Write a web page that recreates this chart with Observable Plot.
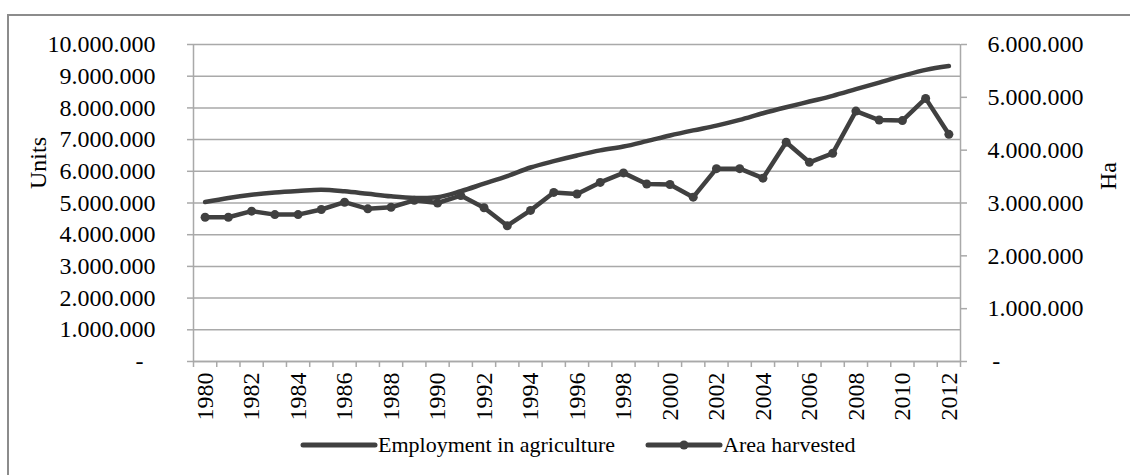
<!DOCTYPE html>
<html><head><meta charset="utf-8">
<script src="https://cdn.jsdelivr.net/npm/d3@7"></script>
<script src="https://cdn.jsdelivr.net/npm/@observablehq/plot@0.6"></script>
<style>
html,body{margin:0;padding:0;background:#fff;}
body{font-family:"Liberation Serif","Times New Roman",serif;}
svg text{font-family:"Liberation Serif","Times New Roman",serif !important;}
#wrap{position:relative;width:1130px;height:475px;overflow:hidden;}
#border{position:absolute;left:7px;top:14px;width:1140px;height:480px;border-top:2px solid #8c8c8c;border-left:2px solid #8c8c8c;box-sizing:border-box;}
#chart{position:absolute;left:0;top:0;}
#legend{position:absolute;left:300px;top:430px;height:30px;display:flex;align-items:center;font-size:22px;color:#000;white-space:nowrap;}
#legend .item{display:flex;align-items:center;}
#legend svg{display:block;}
</style>
</head><body>
<div id="wrap"><div id="border"></div><div id="chart"></div><div id="legend"></div></div>
<script>
const years = [1980,1981,1982,1983,1984,1985,1986,1987,1988,1989,1990,1991,1992,1993,1994,1995,1996,1997,1998,1999,2000,2001,2002,2003,2004,2005,2006,2007,2008,2009,2010,2011,2012];
const employment = [5030000,5160000,5260000,5330000,5380000,5420000,5370000,5290000,5210000,5160000,5180000,5370000,5610000,5850000,6120000,6320000,6500000,6660000,6780000,6950000,7130000,7290000,7440000,7620000,7830000,8020000,8200000,8380000,8590000,8800000,9010000,9200000,9320000];
const areaHarvested = [2730000,2730000,2845000,2780000,2780000,2877000,3015000,2890000,2920000,3050000,3000000,3140000,2910000,2570000,2860000,3200000,3170000,3390000,3570000,3360000,3350000,3110000,3650000,3650000,3470000,4150000,3770000,3940000,4740000,4570000,4560000,4980000,4300000];
const leftTicks = [0,1000000,2000000,3000000,4000000,5000000,6000000,7000000,8000000,9000000,10000000];
const rightTicks = [0,1000000,2000000,3000000,4000000,5000000,6000000];
const labelYears = [1980,1982,1984,1986,1988,1990,1992,1994,1996,1998,2000,2002,2004,2006,2008,2010,2012];
const seriesNames = ["Employment in agriculture","Area harvested"];
const axisTitles = ["Units","Ha"];

const ratio = 10000000 / 6000000;
const loc = d3.formatLocale({decimal: ",", thousands: ".", grouping: [3], currency: ["", ""]});
const f = loc.format(",.0f");
const fmtLeft = d => d === 0 ? "-\u2002" : f(d);
const fmtRight = d => { const v = Math.round(d / ratio); return v === 0 ? "\u2009-" : f(v); };

const empData = years.map((y, i) => ({year: y, value: employment[i]}));
const areaData = years.map((y, i) => ({year: y, value: areaHarvested[i] * ratio}));
const boundaries = [years[0] - 0.5, ...years.map(y => y + 0.5)];
const xDomain = [years[0] - 0.5, years[years.length - 1] + 0.5];

const ink = "#404040";
const gridC = "#a9a9a9";
const fs = 24;

const chart = Plot.plot({
  width: 1130,
  height: 425,
  marginLeft: 193,
  marginRight: 170,
  marginTop: 44,
  marginBottom: 64,
  style: {fontFamily: '"Liberation Serif","Times New Roman",serif', fontSize: fs + "px", color: "#000", background: "transparent", overflow: "visible"},
  x: {domain: xDomain, label: null},
  y: {domain: [0, 10000000], label: null},
  marks: [
    Plot.gridY(leftTicks, {stroke: gridC, strokeOpacity: 1, strokeWidth: 1.5}),
    Plot.ruleX([xDomain[0], xDomain[1]], {stroke: gridC, strokeWidth: 1.5}),
    Plot.ruleY([0], {stroke: gridC, strokeWidth: 1.5}),
    Plot.axisY({anchor: "left", ticks: leftTicks, tickFormat: fmtLeft, tickSize: 6, tickPadding: 32, stroke: gridC, strokeWidth: 1.5, fontSize: fs, label: null}),
    Plot.axisY({anchor: "right", ticks: rightTicks.map(v => v * ratio), tickFormat: fmtRight, tickSize: 6, tickPadding: 21, stroke: gridC, strokeWidth: 1.5, fontSize: fs, label: null}),
    Plot.axisX({ticks: boundaries, tickFormat: () => "", tickSize: 6, stroke: gridC, strokeWidth: 1.5, label: null}),
    Plot.axisX({ticks: labelYears, tickFormat: d => String(d), tickSize: 0, tickPadding: 11, tickRotate: -90, fontSize: fs, label: null}),
    Plot.text([axisTitles[0]], {frameAnchor: "left", textAnchor: "middle", dx: -155, dy: -40, rotate: -90, fontSize: fs, fill: "#000"}),
    Plot.text([axisTitles[1]], {frameAnchor: "right", textAnchor: "middle", dx: 148, dy: -27, rotate: -90, fontSize: fs, fill: "#000"}),
    Plot.line(empData, {x: "year", y: "value", stroke: ink, strokeWidth: 4.5, curve: "catmull-rom"}),
    Plot.line(areaData, {x: "year", y: "value", stroke: ink, strokeWidth: 4.5}),
    Plot.dot(areaData, {x: "year", y: "value", r: 4.5, fill: ink, stroke: "none"})
  ]
});
document.getElementById("chart").appendChild(chart);

const legend = document.getElementById("legend");
function swatch(withDot) {
  const ns = "http://www.w3.org/2000/svg";
  const s = document.createElementNS(ns, "svg");
  s.setAttribute("width", 78); s.setAttribute("height", 14);
  const l = document.createElementNS(ns, "line");
  l.setAttribute("x1", 3); l.setAttribute("x2", 75); l.setAttribute("y1", 7); l.setAttribute("y2", 7);
  l.setAttribute("stroke", ink); l.setAttribute("stroke-width", 5); l.setAttribute("stroke-linecap", "round");
  s.appendChild(l);
  if (withDot) {
    const c = document.createElementNS(ns, "circle");
    c.setAttribute("cx", 39); c.setAttribute("cy", 7); c.setAttribute("r", 4.5); c.setAttribute("fill", ink);
    s.appendChild(c);
  }
  return s;
}
seriesNames.forEach((name, i) => {
  const it = document.createElement("div");
  it.className = "item";
  if (i > 0) it.style.marginLeft = "30px";
  it.appendChild(swatch(i === 1));
  const t = document.createElement("span");
  t.textContent = name;
  it.appendChild(t);
  legend.appendChild(it);
});
</script>
</body></html>
